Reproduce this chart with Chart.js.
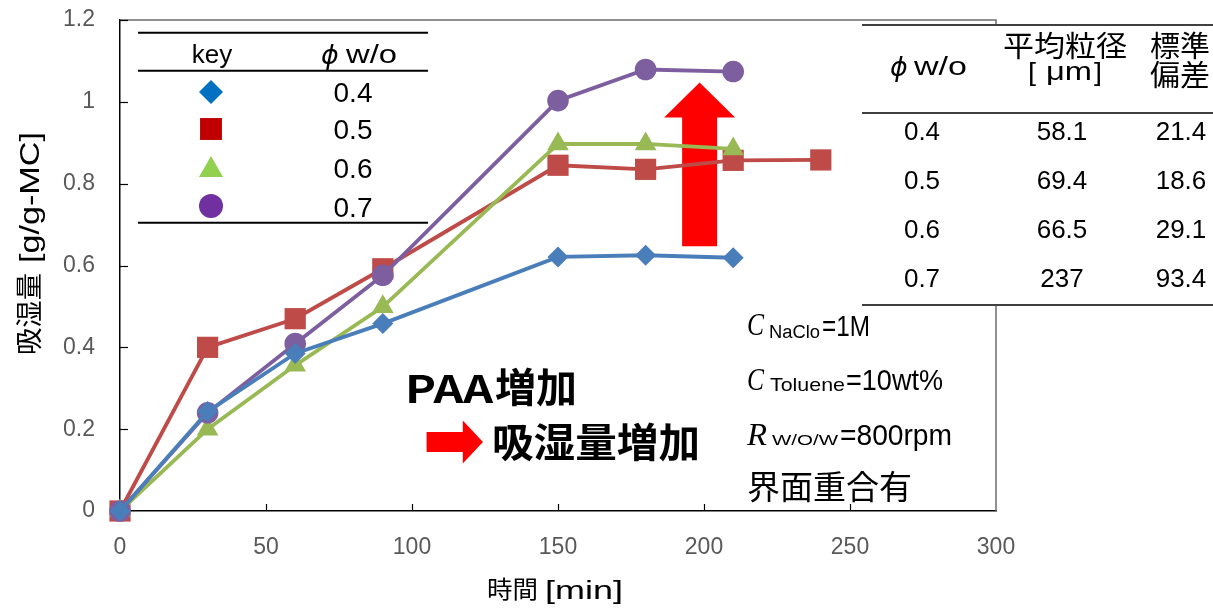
<!DOCTYPE html>
<html><head><meta charset="utf-8">
<script src="https://cdn.jsdelivr.net/npm/chart.js@4.4.1/dist/chart.umd.min.js"></script>
<style>html,body{margin:0;padding:0;background:#fff}#wrap{width:1213px;height:609px}</style>
</head><body><div id="wrap"><canvas id="c" width="1213" height="609"></canvas></div>
<script>
// ---- data ----
const times = [0, 30, 60, 90, 150, 180, 210, 240];
const ratios = ['0.4', '0.5', '0.6', '0.7'];
const s04 = [0, 0.243, 0.385, 0.458, 0.621, 0.625, 0.619];
const s05 = [0, 0.400, 0.470, 0.592, 0.845, 0.835, 0.857, 0.858];
const s06 = [0, 0.200, 0.356, 0.499, 0.897, 0.897, 0.885];
const s07 = [0, 0.240, 0.409, 0.576, 1.003, 1.079, 1.074];
const xTickVals = [0, 50, 100, 150, 200, 250, 300];
const xTickLabels = ['0', '50', '100', '150', '200', '250', '300'];
const yTickVals = [0, 0.2, 0.4, 0.6, 0.8, 1.0, 1.2];
const yTickLabels = ['0', '0.2', '0.4', '0.6', '0.8', '1', '1.2'];
const meanSize = ['58.1', '69.4', '66.5', '237'];
const stdDev = ['21.4', '18.6', '29.1', '93.4'];

const lineColors = ['#4A7EBB', '#BE4B48', '#98B954', '#7D5FA0'];
const keyColors = ['#0070C0', '#C00000', '#92D050', '#7030A0'];
const styles = ['rectRot', 'rect', 'triangle', 'circle'];
const radii = [10.5, 15, 12.5, 10.8];
const orders = [0, 3, 2, 1];
const series = [s04, s05, s06, s07];

const pts = arr => arr.map((v, i) => ({x: times[i], y: v}));

function fit(ctx, str, x0, x1, base, font) {
  ctx.font = font;
  const w = ctx.measureText(str).width;
  const s = (x1 - x0) / w;
  ctx.save();
  ctx.translate(x0, base);
  ctx.scale(s, 1);
  ctx.textAlign = 'left';
  ctx.textBaseline = 'alphabetic';
  ctx.fillText(str, 0, 0);
  ctx.restore();
}
function ctext(ctx, str, cx, base, font) {
  ctx.font = font;
  ctx.textAlign = 'center';
  ctx.textBaseline = 'alphabetic';
  ctx.fillText(str, cx, base);
}

const decor = {
  id: 'decor',
  beforeDatasetsDraw(chart) {
    const {ctx, chartArea: a, scales: {x, y}} = chart;
    ctx.save();
    // top/right frame
    ctx.strokeStyle = '#6e6e6e';
    ctx.lineWidth = 1.5;
    ctx.beginPath();
    ctx.moveTo(a.left, a.top); ctx.lineTo(a.right, a.top); ctx.lineTo(a.right, a.bottom);
    ctx.stroke();
    // inward tick marks
    ctx.strokeStyle = '#000';
    ctx.lineWidth = 1.2;
    xTickVals.forEach(v => {
      if (v === 0 || v === 300) return;
      const px = Math.round(x.getPixelForValue(v)) + 0.5;
      ctx.beginPath(); ctx.moveTo(px, a.bottom); ctx.lineTo(px, a.bottom - 7); ctx.stroke();
    });
    yTickVals.forEach(v => {
      if (v === 0) return;
      const py = Math.round(y.getPixelForValue(v)) + 0.5;
      ctx.beginPath(); ctx.moveTo(a.left, py); ctx.lineTo(a.left + 8, py); ctx.stroke();
    });
    // big up arrow
    ctx.fillStyle = '#FF0000';
    const ax = x.getPixelForValue(198.5);
    const yb = y.getPixelForValue(0.647), yh = y.getPixelForValue(0.962), yt = y.getPixelForValue(1.047);
    const sw = 17.5, hw = 35.5;
    ctx.beginPath();
    ctx.moveTo(ax - sw, yb); ctx.lineTo(ax - sw, yh); ctx.lineTo(ax - hw, yh); ctx.lineTo(ax, yt);
    ctx.lineTo(ax + hw, yh); ctx.lineTo(ax + sw, yh); ctx.lineTo(ax + sw, yb); ctx.closePath();
    ctx.fill();
    // small right arrow
    const x0 = x.getPixelForValue(105), xhb = x.getPixelForValue(117.4), xt = x.getPixelForValue(124.3);
    const ym = y.getPixelForValue(0.1686);
    ctx.beginPath();
    ctx.moveTo(x0, ym - 10); ctx.lineTo(xhb, ym - 10); ctx.lineTo(xhb, ym - 21.5); ctx.lineTo(xt, ym);
    ctx.lineTo(xhb, ym + 21.5); ctx.lineTo(xhb, ym + 10); ctx.lineTo(x0, ym + 10); ctx.closePath();
    ctx.fill();
    ctx.restore();
  },
  afterDatasetsDraw(chart) {
    const {ctx} = chart;
    ctx.save();
    ctx.fillStyle = '#000';
    const phiFont = 'oblique 27px "DejaVu Sans"';
    // ---- key table (left) ----
    ctx.strokeStyle = '#000';
    ctx.lineWidth = 2;
    [32.7, 70.7, 222.7].forEach(yy => {
      ctx.beginPath(); ctx.moveTo(138, yy); ctx.lineTo(428, yy); ctx.stroke();
    });
    ctext(ctx, 'key', 212, 63, '26px "Liberation Sans"');
    ctext(ctx, 'ϕ', 330, 64, phiFont);
    fit(ctx, 'w/o', 346, 397, 63, '26px "Liberation Sans"');
    const keyY = [92, 129, 170, 206];
    const keyR = [12, 15.5, 13.9, 12];
    const keyBase = [101.5, 139, 178, 216.5];
    ratios.forEach((r, i) => {
      ctx.fillStyle = keyColors[i];
      Chart.helpers.drawPoint(ctx, {pointStyle: styles[i], rotation: 0, radius: keyR[i], borderWidth: 0}, 211, keyY[i]);
      ctx.fillStyle = '#000';
      ctext(ctx, r, 353, keyBase[i], '28px "Liberation Sans"');
    });
    // ---- data table (right) ----
    ctx.fillStyle = '#fff';
    ctx.fillRect(862, 24, 351, 282);
    ctx.fillStyle = '#000';
    ctx.strokeStyle = '#404040';
    ctx.lineWidth = 2;
    [25, 113, 305].forEach(yy => {
      ctx.beginPath(); ctx.moveTo(862, yy); ctx.lineTo(1213, yy); ctx.stroke();
    });
    ctext(ctx, 'ϕ', 899, 76, phiFont);
    fit(ctx, 'w/o', 914, 967, 75, '26px "Liberation Sans"');
    fit(ctx, '平均粒径', 1003, 1127, 57, '29px "Noto Sans CJK JP"');
    fit(ctx, '[', 1028, 1036, 81, '25px "Liberation Sans"');
    fit(ctx, 'μm', 1046, 1092, 80, '25px "Liberation Sans"');
    fit(ctx, ']', 1094, 1102, 81, '25px "Liberation Sans"');
    fit(ctx, '標準', 1150, 1210, 57, '29px "Noto Sans CJK JP"');
    fit(ctx, '偏差', 1150, 1210, 86, '29px "Noto Sans CJK JP"');
    const rowBase = [140, 189, 238, 287];
    ratios.forEach((r, i) => {
      ctext(ctx, r, 922, rowBase[i], '26px "Liberation Sans"');
      ctext(ctx, meanSize[i], 1062, rowBase[i], '26px "Liberation Sans"');
      ctext(ctx, stdDev[i], 1181, rowBase[i], '26px "Liberation Sans"');
    });
    // ---- condition notes ----
    const it = 'italic 32px "Liberation Serif"';
    const big = '30px "Liberation Sans"';
    fit(ctx, 'C', 747, 764, 335, it);
    fit(ctx, 'NaClo', 769, 820, 338, '18px "Liberation Sans"');
    fit(ctx, '=1M', 822, 870, 336, big);
    fit(ctx, 'C', 747, 764, 390, it);
    fit(ctx, 'Toluene', 770, 845, 391, '19px "Liberation Sans"');
    fit(ctx, '=10wt%', 846, 943, 390, big);
    fit(ctx, 'R', 747, 767, 445, it);
    fit(ctx, 'W/O/W', 772, 838, 445, '15px "Liberation Sans"');
    fit(ctx, '=800rpm', 840, 952, 445, big);
    fit(ctx, '界面重合有', 747, 912, 499, '33px "Noto Sans CJK JP"');
    // ---- PAA note ----
    fit(ctx, 'PAA', 405, 493, 403, 'bold 38px "Noto Sans CJK JP"');
    fit(ctx, '増加', 495, 577, 402, 'bold 40px "Noto Sans CJK JP"');
    fit(ctx, '吸湿量増加', 492, 700, 457, 'bold 40px "Noto Sans CJK JP"');
    // ---- axis titles ----
    fit(ctx, '時間', 487, 538, 598, '24px "Noto Sans CJK JP"');
    fit(ctx, '[min]', 545, 623, 599, '26px "Liberation Sans"');
    ctx.save();
    ctx.translate(39, 355);
    ctx.rotate(-Math.PI / 2);
    fit(ctx, '吸湿量', 0, 82, 0, '27px "Noto Sans CJK JP"');
    fit(ctx, '[g/g-MC]', 92, 223, 0, '27px "Liberation Sans"');
    ctx.restore();
    ctx.restore();
  }
};

new Chart(document.getElementById('c'), {
  type: 'line',
  data: {
    datasets: series.map((s, i) => ({
      label: ratios[i],
      data: pts(s),
      borderColor: lineColors[i],
      backgroundColor: lineColors[i],
      pointBackgroundColor: lineColors[i],
      pointStyle: styles[i],
      pointRadius: radii[i],
      pointHoverRadius: radii[i],
      pointBorderWidth: 0,
      borderWidth: 3.8,
      tension: 0,
      clip: false,
      order: orders[i]
    }))
  },
  options: {
    responsive: false,
    animation: false,
    events: [],
    layout: {padding: {left: 0, right: 217, top: 20, bottom: 0}},
    plugins: {legend: {display: false}, tooltip: {enabled: false}},
    scales: {
      x: {
        type: 'linear', min: 0, max: 300,
        afterBuildTicks: s => { s.ticks = xTickVals.map(v => ({value: v})); },
        afterFit: s => { s.height = 98; s.paddingLeft = 0; s.paddingRight = 0; },
        grid: {display: false, drawTicks: false},
        border: {display: true, color: '#000', width: 1.5},
        ticks: {
          callback: (v, i) => xTickLabels[i],
          color: '#595959', padding: 23, maxRotation: 0, autoSkip: false,
          font: {family: 'Liberation Sans', size: 23}
        }
      },
      y: {
        type: 'linear', min: 0, max: 1.2,
        afterBuildTicks: s => { s.ticks = yTickVals.map(v => ({value: v})); },
        afterFit: s => { s.width = 120; s.paddingTop = 0; s.paddingBottom = 0; },
        grid: {display: false, drawTicks: false},
        border: {display: true, color: '#000', width: 1.5},
        ticks: {
          callback: (v, i) => yTickLabels[i],
          color: '#595959', padding: 25, autoSkip: false,
          font: {family: 'Liberation Sans', size: 23}
        }
      }
    }
  },
  plugins: [decor]
});
</script>
</body></html>
